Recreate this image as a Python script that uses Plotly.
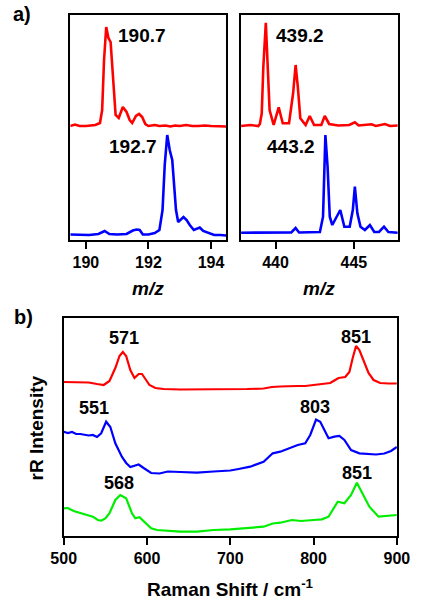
import plotly.graph_objects as go

# ---- Panel a) left: m/z 189.5-194.5 ----
ms1_red_x = [189.50, 189.65, 189.80, 190.00, 190.30, 190.45, 190.52, 190.58, 190.65, 190.72,
             190.79, 190.87, 190.95, 191.05, 191.18, 191.30, 191.40, 191.48, 191.60, 191.70,
             191.80, 191.90, 192.00, 192.20, 192.35, 192.55, 192.70, 192.85, 193.00, 193.20,
             193.40, 193.60, 193.80, 194.00, 194.20, 194.48]
ms1_red_y = [114, 115.5, 114, 114, 115, 117, 130, 180, 213, 202,
             198, 160, 125, 122, 133, 128, 120, 117, 124, 126,
             123, 116, 114, 115, 114, 114.5, 113.5, 114.5, 114, 115,
             114, 114, 114.5, 114, 114, 113.5]

ms1_blue_x = [189.50, 189.80, 190.10, 190.40, 190.60, 190.75, 191.00, 191.30, 191.50, 191.62,
              191.72, 191.82, 192.00, 192.20, 192.35, 192.45, 192.52, 192.60, 192.68, 192.76,
              192.82, 192.88, 192.95, 193.05, 193.12, 193.22, 193.32, 193.45, 193.55, 193.64,
              193.75, 193.90, 194.10, 194.30, 194.48]
ms1_blue_y = [5.5, 5.5, 5, 6, 9, 6, 5.5, 6, 9.5, 10.5,
              10, 5.5, 5.5, 7, 10, 30, 75, 105, 90, 80,
              55, 30, 18, 21, 23, 20, 15, 10, 11, 12.5,
              9, 7, 5, 5, 4.5]

# ---- Panel a) right: m/z 437.8-447.8 ----
ms2_red_x = [437.80, 438.40, 438.90, 439.00, 439.12, 439.22, 439.38, 439.49, 439.62, 439.88,
             440.20, 440.46, 440.86, 441.12, 441.28, 441.42, 441.58, 441.92, 442.18, 442.46,
             442.92, 443.14, 443.42, 444.00, 444.70, 445.06, 445.30, 446.12, 446.40, 446.98,
             447.30, 447.80]
ms2_red_y = [114, 115, 114, 116, 126.7, 173, 217.3, 180, 130, 115,
             132.7, 116.7, 116.7, 146.7, 175, 153.3, 121.7, 115, 124, 115,
             115, 124, 116, 114.5, 115, 117.7, 114.5, 115.7, 114, 116,
             114, 114.5]

ms2_blue_x = [437.80, 440.20, 441.00, 441.28, 441.50, 442.83, 443.03, 443.18, 443.32, 443.46,
              443.62, 444.13, 444.39, 444.73, 444.93, 445.06, 445.22, 445.42, 445.70, 446.02,
              446.30, 446.60, 446.92, 447.20, 447.80]
ms2_blue_y = [7.3, 7.5, 7.5, 12, 7.5, 8, 23.3, 105, 73.3, 23.3,
              15, 30, 13.3, 13.3, 30, 53.3, 26.7, 13.3, 10, 15,
              8, 8, 13.3, 8, 7.3]

# ---- Panel b) Raman ----
raman_red_x = [500, 510, 520, 530, 540, 548, 555, 562, 567, 571, 575, 580, 585, 590, 594, 598,
               603, 610, 620, 640, 660, 680, 700, 720, 740, 750, 760, 770, 780, 790, 800, 810,
               820, 826, 830, 838, 843, 847, 851, 855, 860, 866, 872, 880, 890, 900]
raman_red_y = [154, 154, 154, 153.5, 152, 151, 155, 168, 180, 184, 180, 166, 158, 162, 162, 157,
               151, 148, 147, 146.5, 146.5, 146.5, 146.5, 147, 147.5, 149, 149.5, 150, 150, 150, 151, 151.5,
               153, 156, 158, 159, 164, 178, 190, 186, 175, 163, 156, 153, 152.5, 152.5]

raman_blue_x = [500, 505, 510, 515, 520, 525, 530, 535, 540, 545, 551, 556, 562, 570, 575, 580,
                585, 590, 596, 605, 615, 625, 640, 660, 680, 700, 710, 724, 740, 751, 760, 770,
                781, 790, 796, 803, 808, 813, 818, 825, 831, 837, 845, 855, 865, 875, 885, 893, 900]
raman_blue_y = [104.3, 103, 104, 102, 102, 101, 100.5, 101, 99, 102.7, 114.3, 109, 92.7, 79, 73, 69,
                70, 71.5, 68, 63, 62.5, 64.5, 64, 63.3, 64.5, 65.5, 67, 69.3, 74.3, 82.7, 84.3, 87.7,
                91, 92.7, 101, 116.5, 114.3, 106, 97.7, 99.3, 100, 96, 86, 82.7, 82, 81.5, 82.5, 85, 89]

raman_green_x = [500, 505, 512, 520, 528, 535, 541, 545, 550, 555, 562, 568, 575, 582, 586, 591,
                 596, 605, 612, 620, 640, 660, 680, 700, 720, 740, 751, 760, 774, 785, 800, 810,
                 818, 824, 829, 837, 845, 852, 858, 867, 878, 890, 900]
raman_green_y = [27.7, 28, 25, 22.7, 21, 19.3, 16, 15.3, 17.5, 22.7, 36, 41, 37.7, 22.7, 17.7, 18.7,
                 15, 7.7, 6, 5.3, 4.3, 4.3, 6, 6.7, 8.3, 9.3, 12.5, 13.3, 16, 15, 16, 16.7,
                 19.3, 27, 34.3, 32.7, 41, 53.3, 44.3, 29.3, 19.3, 20, 21]

ms1_ticks = [190, 192, 194]
ms2_ticks = [440, 445]
raman_ticks = [500, 600, 700, 800, 900]

FONT = "Liberation Sans"
RED, BLUE, GREEN = "#ff0000", "#0000ff", "#00ee00"

fig = go.Figure()
fig.add_trace(go.Scatter(x=ms1_red_x, y=ms1_red_y, mode="lines", line=dict(color=RED, width=2.6), xaxis="x", yaxis="y"))
fig.add_trace(go.Scatter(x=ms1_blue_x, y=ms1_blue_y, mode="lines", line=dict(color=BLUE, width=2.6), xaxis="x", yaxis="y"))
fig.add_trace(go.Scatter(x=ms2_red_x, y=ms2_red_y, mode="lines", line=dict(color=RED, width=2.6), xaxis="x2", yaxis="y2"))
fig.add_trace(go.Scatter(x=ms2_blue_x, y=ms2_blue_y, mode="lines", line=dict(color=BLUE, width=2.6), xaxis="x2", yaxis="y2"))
fig.add_trace(go.Scatter(x=raman_red_x, y=raman_red_y, mode="lines", line=dict(color=RED, width=2.2), xaxis="x3", yaxis="y3"))
fig.add_trace(go.Scatter(x=raman_blue_x, y=raman_blue_y, mode="lines", line=dict(color=BLUE, width=2.2), xaxis="x3", yaxis="y3"))
fig.add_trace(go.Scatter(x=raman_green_x, y=raman_green_y, mode="lines", line=dict(color=GREEN, width=2.2), xaxis="x3", yaxis="y3"))

W, H = 423, 600

def px(x):
    return x / W

def py(y):
    return 1 - y / H

xcommon = dict(showline=True, linecolor="black", linewidth=1.6, mirror=True, ticks="outside",
               ticklen=7, tickwidth=1.6, tickcolor="black", showgrid=False, zeroline=False,
               tickfont=dict(family=FONT, size=16, color="black", weight="bold"))
ycommon = dict(showline=True, linecolor="black", linewidth=1.6, mirror=True, ticks="",
               showticklabels=False, showgrid=False, zeroline=False)

fig.update_layout(
    width=W, height=H, margin=dict(l=0, r=0, t=0, b=0),
    paper_bgcolor="white", plot_bgcolor="white", showlegend=False,
    xaxis=dict(domain=[px(61), px(227)], range=[189.5, 194.48], tickvals=ms1_ticks, anchor="y", **xcommon),
    yaxis=dict(domain=[py(240), py(15)], range=[0, 225], anchor="x", **ycommon),
    xaxis2=dict(domain=[px(243), px(410)], range=[437.8, 447.8], tickvals=ms2_ticks, anchor="y2", **xcommon),
    yaxis2=dict(domain=[py(240), py(15)], range=[0, 225], anchor="x2", **ycommon),
    xaxis3=dict(domain=[px(54), px(409)], range=[500, 900], tickvals=raman_ticks, anchor="y3", **xcommon),
    yaxis3=dict(domain=[py(536), py(318)], range=[0, 218], anchor="x3", **ycommon),
)

def label(text, x, y, xref, yref, size=19, **kw):
    fig.add_annotation(text=text, x=x, y=y, xref=xref, yref=yref, showarrow=False,
                       xanchor="center", yanchor="middle",
                       font=dict(family=FONT, size=size, color="black", weight="bold"), **kw)

# peak labels
label("190.7", 191.78, 205, "x", "y")
label("192.7", 191.5, 93.3, "x", "y")
label("439.2", 441.54, 205, "x2", "y2")
label("443.2", 441.0, 93.3, "x2", "y2")
label("571", 573, 198, "x3", "y3", size=18)
label("851", 851.5, 199, "x3", "y3", size=18)
label("551", 536.6, 128, "x3", "y3", size=18)
label("803", 801.6, 129.3, "x3", "y3", size=18)
label("568", 566.6, 53.3, "x3", "y3", size=18)
label("851", 852, 63, "x3", "y3", size=18)

# axis titles and panel letters
label("<i>m/z</i>", px(144), py(288), "paper", "paper")
label("<i>m/z</i>", px(326.5), py(288), "paper", "paper")
label("Raman Shift / cm<sup>-1</sup>", px(232), py(588), "paper", "paper")
label("rR Intensity", px(25), py(428), "paper", "paper", textangle=-90)
label("a)", px(10), py(14), "paper", "paper", size=20)
label("b)", px(11), py(317), "paper", "paper", size=20)

fig.write_html("out.html", config={"displayModeBar": False},
               post_script="document.body.style.margin='0';document.body.style.overflow='hidden';")
